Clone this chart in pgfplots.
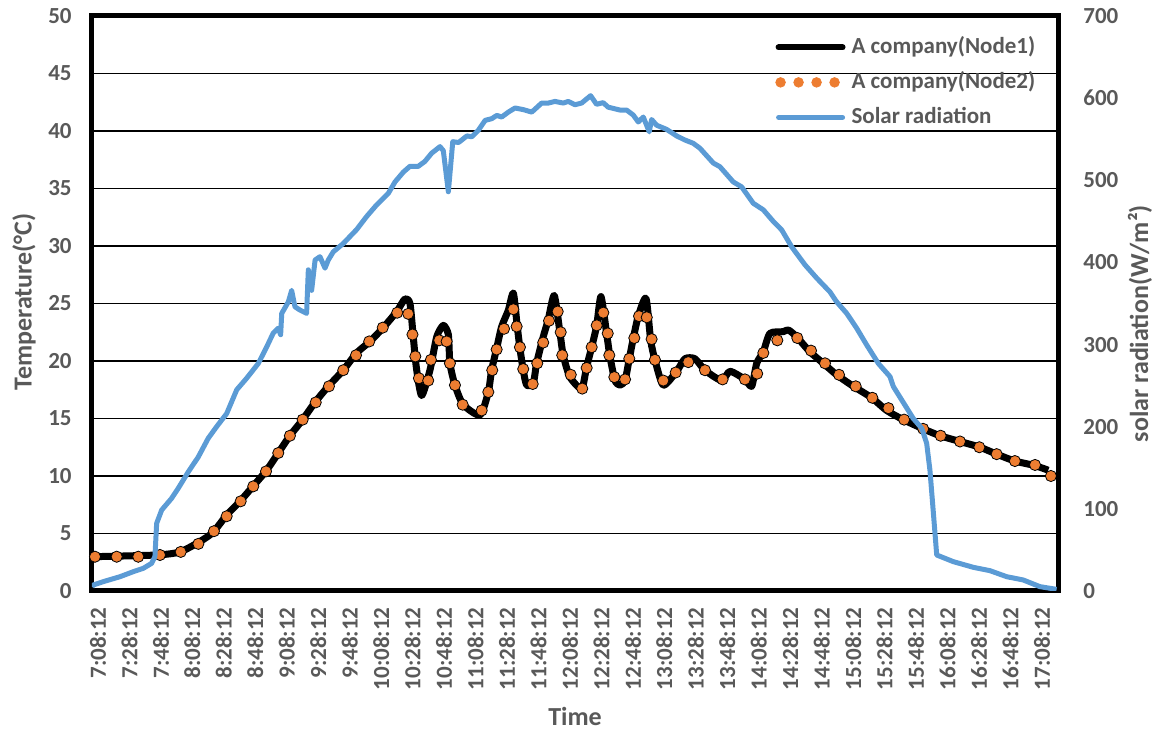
\documentclass[border=0pt]{standalone}
\usepackage{fontspec}
\setmainfont{Carlito}
\usepackage{pgfplots}
\usepackage{pgfplotstable}
\pgfplotsset{compat=1.18}
\definecolor{txt}{HTML}{595959}
\definecolor{org}{HTML}{ED7D31}
\definecolor{blu}{HTML}{5B9BD5}
\tikzset{lbl/.style={font=\fontsize{13}{15}\selectfont\bfseries, text=txt}}

\pgfplotstableread{
t T
-3.8 2.98
37.3 3.13
52.1 3.4
64.8 4.3
73.1 5.1
81.8 6.6
90.3 7.8
98.5 9.1
107.2 10.5
114.6 12.0
122.0 13.5
130.1 14.9
137.9 16.4
146.4 17.8
155.9 19.2
164.4 20.7
172.9 21.7
181.3 22.9
189.9 24.3
195.1 25.4
198.3 25.0
200.4 22.1
202.4 19.4
205.7 17.0
211.0 19.2
215.3 22.1
219.5 23.1
222.7 22.3
223.7 19.8
226.9 17.9
232.2 16.2
242.8 15.3
248.1 17.3
250.2 19.2
253.4 21.1
256.6 23.0
260.8 24.4
264.0 25.9
266.5 23.0
268.2 21.1
270.3 19.2
272.5 17.9
276.7 18.1
278.8 19.8
283.0 22.1
286.2 23.6
290.0 25.7
293.6 22.5
295.7 20.5
300.0 18.6
307.4 17.6
310.6 19.5
313.8 21.2
317.0 23.1
319.7 25.6
323.3 22.4
325.4 20.4
328.6 18.3
331.8 17.9
335.0 18.3
337.7 20.2
340.3 22.0
343.4 23.9
348.3 25.45
351.3 21.8
354.0 20.1
359.3 17.9
367.8 19.1
373.1 20.2
379.4 20.2
385.8 19.2
396.4 18.3
401.7 19.1
411.2 18.4
415.5 17.8
418.7 19.8
422.9 20.8
427.1 22.4
435.6 22.55
438.8 22.7
444.1 22.1
452.5 20.8
461.0 19.8
469.5 18.8
480.1 17.8
491.8 16.8
501.3 15.7
511.8 14.9
524.5 14.1
535.2 13.5
547.9 13.0
560.6 12.5
571.2 11.9
582.8 11.3
595.6 10.9
604.0 10.5
}\nodeone

\pgfplotstableread{
t T
-1.9 2.98
11.9 2.98
25.6 2.98
39.4 3.13
52.6 3.4
63.8 4.1
73.7 5.2
81.8 6.5
90.7 7.8
98.7 9.1
106.8 10.4
114.6 12.0
122.0 13.5
130.1 14.9
138.4 16.4
146.8 17.8
155.9 19.2
164.0 20.5
172.4 21.7
181.0 22.9
190.2 24.2
197.2 24.1
199.9 22.3
201.7 20.4
204.0 18.5
209.9 18.3
211.6 20.1
216.9 21.8
221.6 21.7
223.7 19.8
226.9 17.9
231.8 16.2
243.9 15.7
248.1 17.3
250.6 19.2
253.4 21.0
258.1 22.8
264.0 24.5
266.1 23.0
268.2 21.2
270.3 19.3
276.3 18.0
279.2 19.8
283.0 21.6
286.7 23.5
292.2 24.3
294.1 22.5
295.1 20.5
300.5 18.8
307.8 17.6
310.6 19.4
313.8 21.2
317.0 23.1
321.2 24.2
324.0 22.4
325.0 20.5
328.2 18.6
335.0 18.4
337.7 20.2
340.9 22.0
343.9 23.9
348.8 23.8
351.9 21.9
354.0 20.1
359.3 18.3
367.2 19.0
375.2 19.9
385.8 19.2
397.0 18.4
411.2 18.4
419.0 18.9
422.9 20.7
431.8 21.8
444.5 22.0
453.2 20.9
462.1 19.8
471.0 18.8
481.6 17.8
492.2 16.8
502.4 15.9
512.4 14.9
524.5 14.1
535.6 13.5
547.9 13.0
560.2 12.5
571.2 11.9
582.8 11.3
595.6 10.96
605.7 10.0
}\nodetwo

\pgfplotstableread{
t R
-3.8 5.0
-3.0 7.3
3.4 11.4
14.0 17.4
22.4 23.5
28.8 27.6
34.1 33.7
36.2 41.8
37.3 82.4
40.5 98.6
46.8 112.8
51.0 125
57.4 145
63.7 163
70.1 186
75.4 200
81.8 216
88.2 245
94.5 259
101.9 277
107.2 297
111.4 314
114.6 320
116.1 312
116.8 338
121.0 352
123.1 366
125.2 346
128.4 342
132.6 338
133.7 391
135.8 366
138.0 403
141.1 407
144.3 393
146.4 403
149.6 413
155.9 423
164.4 440
170.8 456
177.1 470
184.5 484
188.8 498
194.1 510
198.3 517
203.6 517
207.8 523
212.1 533
217.4 541
219.5 536
222.7 486
225.5 547
229.2 546
234.5 554
237.6 553
241.8 561
246.1 573
250.3 575
253.5 579
256.6 577
260.8 583
265.1 588
270.4 586
275.7 583
282.0 594
286.2 594
290.5 596
295.8 594
298.9 596
303.2 592
307.4 594
313.1 603
316.9 592.5
321.1 594.5
324.3 589
331.8 585.5
336.0 585.5
340.2 579.5
343.4 571
346.6 577
350.4 559
351.9 574
355.1 567
361.4 562
367.8 554
373.1 549
378.4 545
382.6 539
391.1 521
395.3 516.5
403.8 498
409.1 492
416.5 472
422.9 464
429.2 450
434.6 439.5
440.9 419
449.4 397
456.8 381
465.3 364
469.5 352
475.9 338
482.2 320
488.6 299.5
496.0 277
503.4 261
505.5 249
513.0 226
518.2 210
523.6 198
526.7 180
528.8 147
531.0 94.6
533.1 43.8
543.7 35.7
556.4 28.8
567.0 24.7
577.6 17.4
588.1 13.4
598.7 5.3
609.3 2.0
}\solar

\pgfplotsset{
  common/.style={
    at={(0,0)}, anchor=south west,
    scale only axis, width=483pt, height=287.5pt,
    xmin=-3.8, xmax=610.2,
    major tick length=0pt,
    axis line style={line width=2.5pt, black},
    tick label style={font=\fontsize{11.5}{13}\selectfont\bfseries, text=txt},
    /pgf/number format/assume math mode=true,
  },
}

\begin{document}
\begin{tikzpicture}
\path[use as bounding box] (-46pt,-70.5pt) rectangle (532.5pt,295.5pt);
\begin{axis}[
  common,
  ymin=0, ymax=50,
  xtick={0,20,...,600},
  xticklabels={7:08:12,7:28:12,7:48:12,8:08:12,8:28:12,8:48:12,9:08:12,9:28:12,9:48:12,10:08:12,10:28:12,10:48:12,11:08:12,11:28:12,11:48:12,12:08:12,12:28:12,12:48:12,13:08:12,13:28:12,13:48:12,14:08:12,14:28:12,14:48:12,15:08:12,15:28:12,15:48:12,16:08:12,16:28:12,16:48:12,17:08:12},
  ytick={0,5,...,50},
  ymajorgrids,
  grid style={black, line width=0.9pt},
  xticklabel style={rotate=90, anchor=east, inner sep=0pt},
  xticklabel shift=8pt,
  yticklabel style={anchor=east, inner sep=0pt},
  yticklabel shift=10pt,
  xlabel={Time},
  ylabel={Temperature(°C)},
  every axis x label/.style={at={(axis description cs:0.5,-0.219)}, anchor=center, lbl},
  every axis y label/.style={at={(axis description cs:-0.0704,0.503)}, rotate=90, anchor=center, lbl},
]
\addplot[black, line width=3.5pt, line join=round, smooth, tension=0.4] table[x=t, y=T] {\nodeone};
\addplot[only marks, mark=*, mark size=2.8pt, mark options={draw=none, fill=org}] table[x=t, y=T] {\nodetwo};
\end{axis}
\begin{axis}[
  common,
  ymin=0, ymax=700,
  ytick={0,100,...,700},
  axis y line*=right,
  axis x line=none,
  yticklabel style={anchor=west, inner sep=0pt},
  yticklabel shift=12.5pt,
  ylabel={solar radiation(W/m²)},
  every axis y label/.style={at={(axis description cs:1.0849,0.465)}, rotate=90, anchor=center, lbl},
  legend cell align=left,
  legend style={at={(axis description cs:0.707,0.9635)}, anchor=north west,
    draw=none, fill=none, inner sep=0pt, row sep=7.5pt, column sep=3pt,
    font=\fontsize{11.5}{13}\selectfont\bfseries, text=txt,
    nodes={inner sep=0pt, text height=8pt, text depth=2pt}},
  legend image code/.code={\draw[#1, line cap=round] (0pt,0pt) -- (32pt,0pt);},
]
\addlegendimage{black, line width=3pt}
\addlegendentry{A company(Node1)}
\addlegendimage{legend image code/.code={\fill[org] (1pt,0pt) circle (2.4pt) (10pt,0pt) circle (2.4pt) (19pt,0pt) circle (2.4pt) (28pt,0pt) circle (2.4pt);}}
\addlegendentry{A company(Node2)}
\addplot[blu, line width=2.5pt, line join=round] table[x=t, y=R] {\solar};
\addlegendentry{Solar radiation}
\end{axis}
\end{tikzpicture}
\end{document}
